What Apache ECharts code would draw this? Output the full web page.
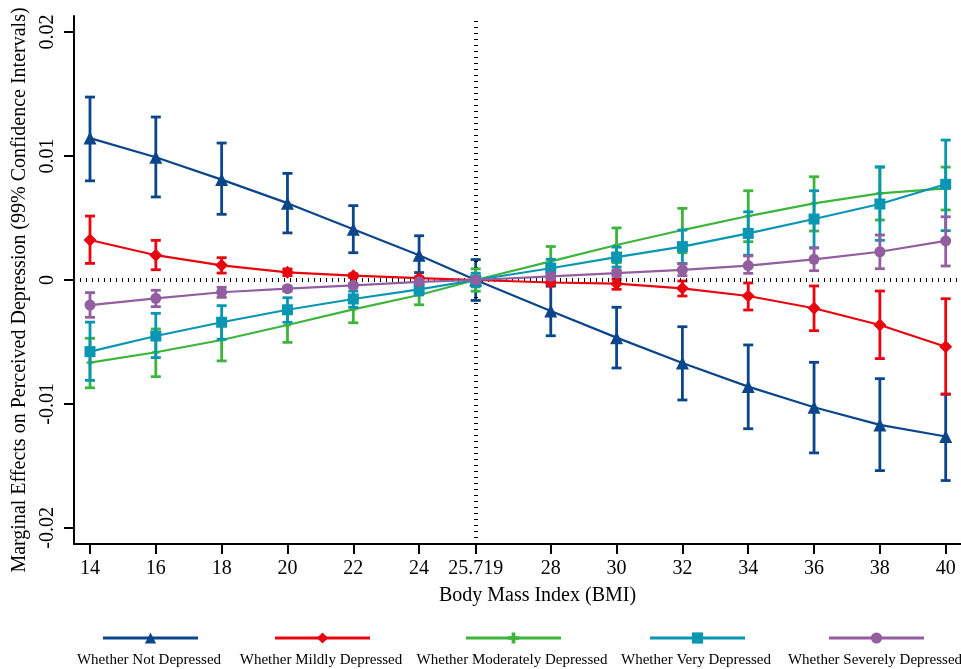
<!DOCTYPE html>
<html>
<head>
<meta charset="utf-8">
<script src="https://cdn.jsdelivr.net/npm/echarts@6/dist/echarts.min.js"></script>
<style>
  html, body { margin: 0; padding: 0; background: #fff; }
  #chart { width: 961px; height: 669px; }
</style>
</head>
<body>
<div id="chart"></div>
<script>
// BMI values at which the margins were evaluated
const bmi = [14, 16, 18, 20, 22, 24, 25.719, 28, 30, 32, 34, 36, 38, 40];
const xTicks = [14, 16, 18, 20, 22, 24, 25.719, 28, 30, 32, 34, 36, 38, 40];
const yTicks = [-0.02, -0.01, 0, 0.01, 0.02];

const names = ['Whether Not Depressed', 'Whether Mildly Depressed', 'Whether Moderately Depressed',
  'Whether Very Depressed', 'Whether Severely Depressed'];

const notDep   = [0.01145, 0.0099, 0.0081, 0.0062, 0.0041, 0.0020, 0, -0.0025, -0.00465, -0.0067, -0.0086, -0.01027, -0.01169, -0.01263];
const notDepLo = [0.0080, 0.0067, 0.0053, 0.0038, 0.0022, 0.0006, -0.00165, -0.0045, -0.0071, -0.00968, -0.0120, -0.01395, -0.01538, -0.01618];
const notDepHi = [0.01476, 0.01315, 0.01105, 0.0086, 0.0060, 0.00357, 0.00165, -0.0005, -0.0022, -0.00377, -0.00524, -0.00664, -0.00796, -0.0092];

const mild   = [0.00323, 0.0020, 0.00118, 0.00062, 0.00035, 0.00015, 0, -0.0002, -0.0003, -0.00067, -0.00129, -0.00228, -0.00363, -0.00538];
const mildLo = [0.00134, 0.00083, 0.00056, 0.00035, 0.0002, 0.00005, 0, -0.0004, -0.00075, -0.00129, -0.00242, -0.00409, -0.00634, -0.00922];
const mildHi = [0.00516, 0.0032, 0.0018, 0.00089, 0.0005, 0.00025, 0, 0, 0.00005, -0.00008, -0.00024, -0.00048, -0.00089, -0.00151];

const moder   = [-0.00667, -0.00583, -0.00484, -0.00363, -0.00237, -0.00121, 0, 0.0015, 0.00282, 0.00403, 0.00516, 0.00618, 0.00699, 0.0074];
const moderLo = [-0.0087, -0.0078, -0.00653, -0.00503, -0.00345, -0.002, -0.0009, 0.0003, 0.0014, 0.0022, 0.00309, 0.00395, 0.00484, 0.00565];
const moderHi = [-0.0047, -0.00395, -0.00323, -0.00237, -0.00137, -0.0004, 0.0009, 0.0027, 0.0042, 0.00578, 0.0072, 0.00833, 0.00909, 0.00911];

const very   = [-0.00578, -0.00452, -0.00341, -0.0024, -0.00153, -0.00075, 0, 0.00095, 0.00185, 0.00269, 0.00376, 0.00492, 0.00613, 0.00772];
const veryLo = [-0.0081, -0.00626, -0.00478, -0.00341, -0.0022, -0.0012, -0.00055, 0.00023, 0.00105, 0.00134, 0.002, 0.0026, 0.0032, 0.00398];
const veryHi = [-0.0034, -0.00269, -0.00207, -0.00143, -0.0009, -0.0003, 0.00055, 0.00167, 0.00265, 0.00403, 0.0055, 0.0072, 0.00914, 0.01129];

const severe   = [-0.00202, -0.00148, -0.00099, -0.0007, -0.00043, -0.00015, 0, 0.0003, 0.00056, 0.00081, 0.00116, 0.00167, 0.00228, 0.00315];
const severeLo = [-0.00301, -0.00215, -0.0014, -0.0009, -0.0006, -0.00025, 0, 0.0001, 0.0003, 0.00035, 0.00054, 0.00075, 0.00091, 0.00113];
const severeHi = [-0.00102, -0.00083, -0.00059, -0.0005, -0.00028, -0.00005, 0, 0.0005, 0.0008, 0.00129, 0.00194, 0.00258, 0.00363, 0.0051];

const groups = [
  { mid: notDep, lo: notDepLo, hi: notDepHi, color: '#0b468b', symbol: 'triangle', size: 13 },
  { mid: mild, lo: mildLo, hi: mildHi, color: '#e8050f', symbol: 'diamond', size: 13 },
  { mid: moder, lo: moderLo, hi: moderHi, color: '#3db43c', symbol: 'path://M0,2H2V0H4V2H6V4H4V6H2V4H0Z', size: 7 },
  { mid: very, lo: veryLo, hi: veryHi, color: '#0896b3', symbol: 'rect', size: 11 },
  { mid: severe, lo: severeLo, hi: severeHi, color: '#925e9f', symbol: 'circle', size: 11 }
];

const legendCenters = [149, 321, 512, 696, 875];
const font = '"Liberation Serif", "DejaVu Serif", serif';

const chart = echarts.init(document.getElementById('chart'));

function errorBar(params, api) {
  const x = api.value(0);
  const a = api.coord([x, api.value(1)]);
  const b = api.coord([x, api.value(2)]);
  const w = 5;
  const style = { stroke: api.visual('color'), lineWidth: 2.8 };
  return {
    type: 'group',
    children: [
      { type: 'line', shape: { x1: a[0], y1: a[1], x2: b[0], y2: b[1] }, style: style },
      { type: 'line', shape: { x1: a[0] - w, y1: a[1], x2: a[0] + w, y2: a[1] }, style: style },
      { type: 'line', shape: { x1: b[0] - w, y1: b[1], x2: b[0] + w, y2: b[1] }, style: style }
    ]
  };
}

const series = [];
// reference lines at 0 and at the mean BMI
series.push({
  type: 'line',
  data: [],
  silent: true,
  z: 1,
  markLine: {
    silent: true,
    symbol: 'none',
    label: { show: false },
    lineStyle: { color: '#000', type: [1, 5], width: 4, cap: 'butt' },
    data: [{ xAxis: 25.719 }, { yAxis: 0 }]
  }
});

groups.forEach(function (g, i) {
  series.push({
    type: 'custom',
    renderItem: errorBar,
    itemStyle: { color: g.color },
    encode: { x: 0, y: [1, 2] },
    data: bmi.map((x, k) => [x, g.lo[k], g.hi[k]]),
    z: 2 + i * 2
  });
  series.push({
    type: 'line',
    name: names[i],
    data: bmi.map((x, k) => [x, g.mid[k]]),
    symbol: g.symbol,
    symbolSize: g.size,
    showSymbol: true,
    color: g.color,
    lineStyle: { color: g.color, width: 2.2 },
    itemStyle: { color: g.color },
    z: 3 + i * 2
  });
});

const legends = names.map(function (n, i) {
  return {
    data: [n],
    left: legendCenters[i] - 47.5,
    top: 631,
    padding: 0,
    itemWidth: 95,
    itemHeight: 14,
    lineStyle: { width: 3 },
    formatter: function () { return ''; },
    selectedMode: false
  };
});

const labelTexts = names.map(function (n, i) {
  return {
    type: 'text',
    x: legendCenters[i],
    y: 660,
    style: {
      text: n,
      align: 'center',
      verticalAlign: 'middle',
      font: '15px ' + font,
      fill: '#000'
    }
  };
});

const option = {
  backgroundColor: '#fff',
  animation: false,
  grid: { left: 74, right: 0, top: 16, bottom: 125, containLabel: false, outerBoundsMode: 'none' },
  legend: legends,
  graphic: labelTexts,
  xAxis: {
    type: 'value',
    min: 13.514,
    max: 40.465,
    name: 'Body Mass Index (BMI)',
    nameLocation: 'middle',
    nameGap: 42,
    nameTextStyle: { fontFamily: font, fontSize: 20, color: '#000', padding: [0, 0, 0, 40] },
    axisLine: { show: true, onZero: false, lineStyle: { color: '#000', width: 2 } },
    axisTick: { show: true, length: 10, lineStyle: { color: '#000', width: 2 }, customValues: xTicks },
    axisLabel: {
      fontFamily: font, fontSize: 20, color: '#000', margin: 15,
      customValues: xTicks,
      formatter: function (v) { return Math.abs(v - 25.719) < 1e-6 ? '25.719' : String(v); }
    },
    splitLine: { show: false }
  },
  yAxis: {
    type: 'value',
    min: -0.0213,
    max: 0.0213,
    name: 'Marginal Effects on Perceived Depression (99% Confidence Intervals)',
    nameLocation: 'middle',
    nameGap: 44,
    nameTextStyle: { fontFamily: font, fontSize: 20, color: '#000', padding: [0, 20, 0, 0] },
    axisLine: { show: true, onZero: false, lineStyle: { color: '#000', width: 2 } },
    axisTick: { show: true, length: 10, lineStyle: { color: '#000', width: 2 }, customValues: yTicks },
    axisLabel: {
      fontFamily: font, fontSize: 20, color: '#000', margin: 16, rotate: 90,
      customValues: yTicks,
      formatter: function (v) { return Math.abs(v) < 1e-9 ? '0' : String(Math.round(v * 100) / 100); }
    },
    splitLine: { show: false }
  },
  series: series
};

chart.setOption(option);
</script>
</body>
</html>
